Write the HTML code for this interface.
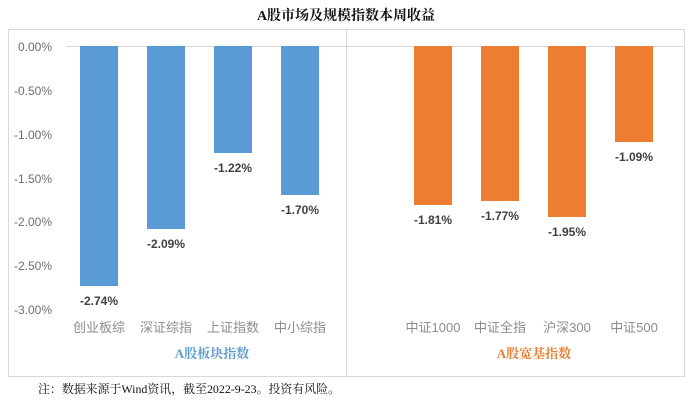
<!DOCTYPE html>
<html><head><meta charset="utf-8"><style>
html,body{margin:0;padding:0;background:#fff;}
svg{display:block;}
</style></head><body>
<svg width="693" height="407" xmlns="http://www.w3.org/2000/svg" font-family="'Liberation Sans','Noto Sans CJK SC',sans-serif">
<text x="346" y="20" text-anchor="middle" font-size="14" font-weight="bold" font-family="'Liberation Serif','Noto Serif CJK SC',serif" fill="#111">A股市场及规模指数本周收益</text>
<rect x="8.5" y="29.5" width="676" height="347" fill="none" stroke="#d9d9d9"/>
<line x1="66" y1="46.5" x2="685" y2="46.5" stroke="#d9d9d9"/>
<line x1="346.5" y1="29" x2="346.5" y2="376" stroke="#d9d9d9"/>
<g font-size="12" fill="#6f6f6f" text-anchor="end">
<text x="52" y="51">0.00%</text>
<text x="52" y="95">-0.50%</text>
<text x="52" y="139">-1.00%</text>
<text x="52" y="183">-1.50%</text>
<text x="52" y="226">-2.00%</text>
<text x="52" y="270">-2.50%</text>
<text x="52" y="314">-3.00%</text>
</g>
<g fill="#5b9bd5">
<rect x="80" y="46" width="38" height="240"/>
<rect x="147" y="46" width="38" height="183"/>
<rect x="214" y="46" width="38" height="107"/>
<rect x="281" y="46" width="38" height="149"/>
</g>
<g fill="#ed7d31">
<rect x="414" y="46" width="38" height="159"/>
<rect x="481" y="46" width="38" height="155"/>
<rect x="548" y="46" width="38" height="171"/>
<rect x="615" y="46" width="38" height="96"/>
</g>
<g font-size="12" font-weight="bold" fill="#404040" text-anchor="middle">
<text x="99" y="305">-2.74%</text>
<text x="166" y="248">-2.09%</text>
<text x="233" y="172">-1.22%</text>
<text x="300" y="214">-1.70%</text>
<text x="433" y="224">-1.81%</text>
<text x="500" y="220">-1.77%</text>
<text x="567" y="236">-1.95%</text>
<text x="634" y="161">-1.09%</text>
</g>
<g font-size="13" fill="#8c8c8c" text-anchor="middle">
<text x="99" y="332">创业板综</text>
<text x="166" y="332">深证综指</text>
<text x="233" y="332">上证指数</text>
<text x="300" y="332">中小综指</text>
<text x="433" y="332">中证1000</text>
<text x="500" y="332">中证全指</text>
<text x="567" y="332">沪深300</text>
<text x="634" y="332">中证500</text>
</g>
<g font-size="13" font-weight="bold" text-anchor="middle" font-family="'Liberation Serif','Noto Serif CJK SC',serif">
<text x="212" y="358" fill="#5b9bd5">A股板块指数</text>
<text x="534" y="358" fill="#ed7d31">A股宽基指数</text>
</g>
<text x="38" y="393" font-size="12" fill="#111" textLength="302" lengthAdjust="spacingAndGlyphs" font-family="'Liberation Serif','Noto Serif CJK SC',serif">注：数据来源于Wind资讯，截至2022-9-23。投资有风险。</text>
</svg>
</body></html>
